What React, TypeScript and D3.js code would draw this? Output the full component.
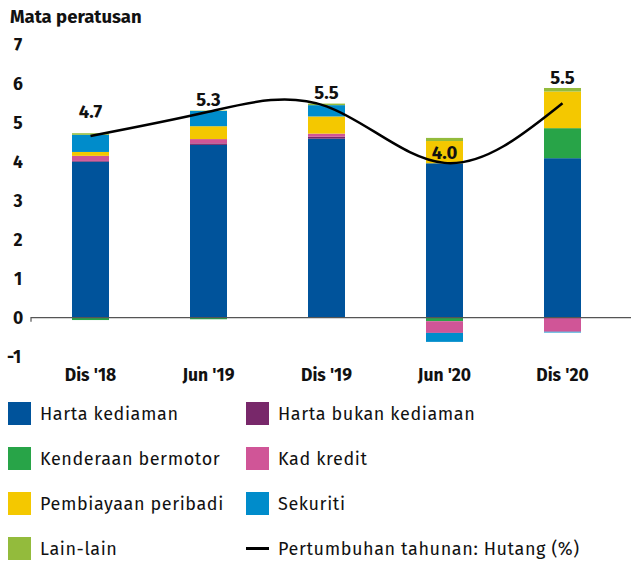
import React from "react";
import * as d3 from "d3";

const categories = ["Dis '18", "Jun '19", "Dis '19", "Jun '20", "Dis '20"];
const seriesNames = [
  "Harta kediaman",
  "Harta bukan kediaman",
  "Kenderaan bermotor",
  "Kad kredit",
  "Pembiayaan peribadi",
  "Sekuriti",
  "Lain-lain",
];
const hartaKediaman = [4.0, 4.43, 4.59, 3.96, 4.09];
const hartaBukanKediaman = [0.02, 0.04, 0.05, 0.0, 0.0];
const kenderaan = [-0.06, -0.04, 0.0, -0.09, 0.77];
const kadKredit = [0.13, 0.11, 0.08, -0.3, -0.36];
const pembiayaan = [0.1, 0.33, 0.44, 0.57, 0.94];
const sekuriti = [0.44, 0.39, 0.29, -0.23, -0.02];
const lainLain = [0.04, 0.01, 0.04, 0.08, 0.09];
const growth = [4.66, 5.28, 5.42, 3.97, 5.5];
const growthLabels = ["4.7", "5.3", "5.5", "4.0", "5.5"];
const yTicks = [-1, 0, 1, 2, 3, 4, 5, 6, 7];

const colors = ["#00539b", "#78286a", "#28a448", "#d05597", "#f4c800", "#008ccb", "#93bb3c"];
const labelOffsets = [24, 12, 14, 10, 26];

const W = 631;
const H = 563;
const FONT = "'Fira Sans', 'Noto Sans', sans-serif";

export default function App() {
  const values = [hartaKediaman, hartaBukanKediaman, kenderaan, kadKredit, pembiayaan, sekuriti, lainLain];
  const rows = categories.map((c, i) => {
    const r: any = { cat: c };
    seriesNames.forEach((s, j) => (r[s] = values[j][i]));
    return r;
  });
  const stack = d3.stack<any>().keys(seriesNames).offset(d3.stackOffsetDiverging);
  const stacked = stack(rows);

  const x = d3.scalePoint<string>().domain(categories).range([31.5, 621.5]).padding(0.5);
  const y = d3.scaleLinear().domain([0, 7]).range([317.7, 44.7]);
  const barW = 37;

  const line = d3
    .line<number>()
    .x((_, i) => x(categories[i])!)
    .y((d) => y(d))
    .curve(d3.curveNatural);

  const legend = [
    { name: seriesNames[0], color: colors[0], col: 0, row: 0 },
    { name: seriesNames[1], color: colors[1], col: 1, row: 0 },
    { name: seriesNames[2], color: colors[2], col: 0, row: 1 },
    { name: seriesNames[3], color: colors[3], col: 1, row: 1 },
    { name: seriesNames[4], color: colors[4], col: 0, row: 2 },
    { name: seriesNames[5], color: colors[5], col: 1, row: 2 },
    { name: seriesNames[6], color: colors[6], col: 0, row: 3 },
  ];
  const legX = [8, 246];
  const legY = (r: number) => 402 + r * 45;

  return (
    <svg width={W} height={H} style={{ position: "absolute", left: 0, top: 0, background: "#fff" }} fontFamily={FONT}>
      <text x={10} y={23} fontSize={18.5} fontWeight={700} fill="#111">
        Mata peratusan
      </text>
      {yTicks.map((t) => (
        <text key={t} x={t < 0 ? 14 : 18} y={y(t)} dy="0.35em" fontSize={17.5} fontWeight={700} textAnchor="middle" fill="#111">
          {t}
        </text>
      ))}
      {stacked.map((s, j) =>
        s.map((d, i) => {
          const y0 = y(d[0]);
          const y1 = y(d[1]);
          const h = Math.abs(y0 - y1);
          if (h < 0.01) return null;
          return (
            <rect
              key={`${j}-${i}`}
              x={x(categories[i])! - barW / 2}
              y={Math.min(y0, y1)}
              width={barW}
              height={h}
              fill={colors[j]}
            />
          );
        })
      )}
      <path d={`M31,${y(0) + 4}V${y(0)}H${W}`} fill="none" stroke="#555" strokeWidth={1.2} />
      <path d={line(growth)!} fill="none" stroke="#000" strokeWidth={2.5} />
      {growth.map((g, i) => (
        <text
          key={i}
          x={x(categories[i])!}
          y={y(g) - labelOffsets[i]}
          dy="0.35em"
          fontSize={18.5}
          fontWeight={700}
          textAnchor="middle"
          fill="#111"
        >
          {growthLabels[i]}
        </text>
      ))}
      {categories.map((c) => (
        <text key={c} x={x(c)!} y={375} dy="0.35em" fontSize={17.5} fontWeight={700} textAnchor="middle" fill="#111">
          {c}
        </text>
      ))}
      {legend.map((l) => (
        <g key={l.name}>
          <rect x={legX[l.col]} y={legY(l.row)} width={23} height={23} fill={l.color} />
          <text x={legX[l.col] + 32} y={legY(l.row) + 11.5} dy="0.35em" fontSize={18} fill="#111" letterSpacing={0.6}>
            {l.name}
          </text>
        </g>
      ))}
      <line x1={246} x2={269} y1={legY(3) + 11.5} y2={legY(3) + 11.5} stroke="#000" strokeWidth={3} />
      <text x={278} y={legY(3) + 11.5} dy="0.35em" fontSize={18} fill="#111" letterSpacing={0.6}>
        Pertumbuhan tahunan: Hutang (%)
      </text>
    </svg>
  );
}
